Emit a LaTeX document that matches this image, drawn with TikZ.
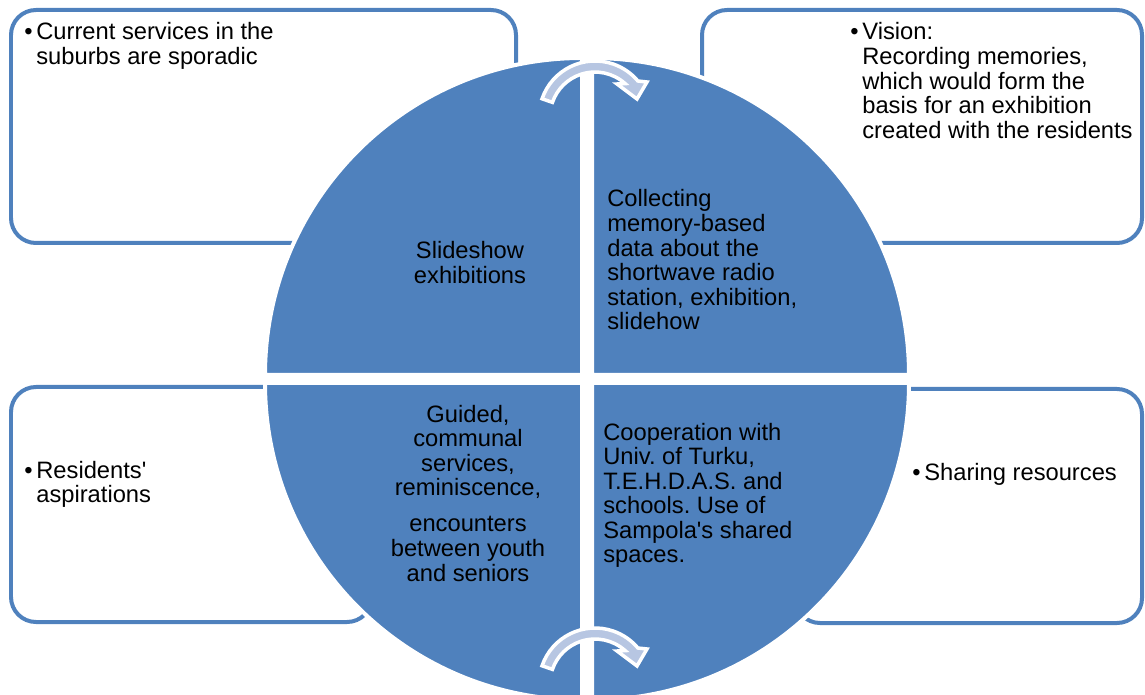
\documentclass[tikz,border=0pt]{standalone}
\usepackage{fontspec}
\setmainfont{Liberation Sans}
\usepackage{tikz}
\usetikzlibrary{
	arrows.meta,
	positioning,
	calc
}
\usepackage{xcolor}
\definecolor{secblue}{HTML}{4F81BD}
\definecolor{turnblue}{HTML}{B7C6E2}

\tikzset{
	box/.style={draw=secblue,line width=0.08cm,rounded corners=0.5cm},
	sector/.style={fill=secblue,draw=white,line width=0.08cm},
	turn/.style={fill=turnblue,draw=white,line width=0.07cm,line join=miter},
	every node/.style={inner sep=0pt,font=\fontsize{13.5}{14}\selectfont}
}

\newcommand{\bulitem}[1]{\makebox[0.24cm][l]{\textbullet}\begin{tabular}[t]{@{}l@{}}#1\end{tabular}}

\frenchspacing

\begin{document}
\begin{tikzpicture}[x=0.02cm,y=-0.02cm]
		
		\useasboundingbox (0,0) rectangle (1145,695);
		
		% outer boxes
		\draw[box] (11,10) rectangle (516,243);
		\draw[box] (702,10) rectangle (1142,243);
		\draw[box] (11,387) rectangle (372,622);
		\draw[box] (795,389) rectangle (1142,623);
		
		% four quarters of the circle
		\filldraw[sector] (582,375) -- (582,58) arc[start angle=-90,end angle=-180,radius=317] -- cycle;
		\filldraw[sector] (592,375) -- (909,375) arc[start angle=0,end angle=-90,radius=317] -- cycle;
		\filldraw[sector] (582,383) -- (265,383) arc[start angle=180,end angle=90,radius=317] -- cycle;
		\filldraw[sector] (592,383) -- (592,700) arc[start angle=90,end angle=0,radius=317] -- cycle;
		
		% turning arrows, top and bottom
		\foreach \dy in {0,567}{
			\filldraw[turn,shift={(0,\dy)}] (595,117) ++(-161:56)
			arc[start angle=-161,end angle=-40,radius=56]
			-- (647,82) -- (637,99) -- (617,84) -- (625.1,83.6)
			arc[start angle=-48,end angle=-161,radius=45] -- cycle;
		}
		
		% texts in the quarters
		\node[anchor=base] (slideshow) at (470,259)
		{\begin{tabular}[t]{@{}c@{}}Slideshow\\exhibitions\end{tabular}};
		\node[anchor=base west] (collecting) at (607,207)
		{\begin{tabular}[t]{@{}l@{}}Collecting\\memory-based\\data about the\\shortwave radio\\station, exhibition,\\slidehow\end{tabular}};
		\node[anchor=base] (guided) at (468,422)
		{\begin{tabular}[t]{@{}c@{}}Guided,\\communal\\services,\\reminiscence,\\[0.23cm]encounters\\between youth\\and seniors\end{tabular}};
		\node[anchor=base west] (cooperation) at (603,440)
		{\begin{tabular}[t]{@{}l@{}}Cooperation with\\Univ. of Turku,\\T.E.H.D.A.S. and\\schools. Use of\\Sampola\textquotesingle s shared\\spaces.\end{tabular}};
		
		% texts in the boxes
		\node[anchor=base west] (current) at (24,40)
		{\bulitem{Current services in the\\suburbs are sporadic}};
		\node[anchor=base west] (vision) at (850,40)
		{\bulitem{Vision:\\Recording memories,\\which would form the\\basis for an exhibition\\created with the residents}};
		\node[anchor=base west] (aspirations) at (24,478)
		{\bulitem{Residents\textquotesingle\\aspirations}};
		\node[anchor=base west] (sharing) at (912,480)
		{\bulitem{Sharing resources}};
		
	\end{tikzpicture}
\end{document}
